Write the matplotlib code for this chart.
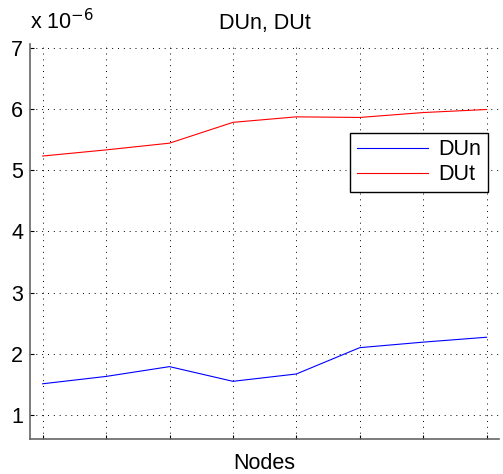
import matplotlib.pyplot as plt

plt.rcParams['font.family'] = ['Liberation Sans', 'DejaVu Sans']

# nodal displacements, in units of 1e-6
nodes = [1, 2, 3, 4, 5, 6, 7, 8]
dun = [1.51, 1.63, 1.79, 1.55, 1.67, 2.10, 2.19, 2.27]
dut = [5.23, 5.33, 5.44, 5.78, 5.87, 5.86, 5.94, 5.99]
yticks = [1, 2, 3, 4, 5, 6, 7]

fs = 15.5

fig = plt.figure(figsize=(5.03, 4.74), dpi=100)
ax = fig.add_axes([0.0596, 0.0745, 0.933, 0.8327])

ax.plot(nodes, dun, color='blue', linewidth=0.8, label='DUn')
ax.plot(nodes, dut, color='red', linewidth=0.8, label='DUt')

ax.set_xlim(0.8, 8.2)
ax.set_ylim(0.613, 7.06)
ax.set_xticks(nodes)
ax.set_xticklabels([''] * len(nodes))
ax.set_yticks(yticks)
ax.set_yticklabels([str(t) for t in yticks])

ax.grid(True, color='black', linestyle=(0, (1, 5)), linewidth=0.7)
ax.tick_params(direction='in', length=3, labelsize=fs, color='black')
ax.tick_params(axis='y', pad=5)

for side in ['top', 'right']:
    ax.spines[side].set_visible(False)
for side in ['left', 'bottom']:
    ax.spines[side].set_color('#666666')
    ax.spines[side].set_linewidth(1.2)

ax.set_title('DUn, DUt', fontsize=fs, pad=11)
ax.set_xlabel('Nodes', fontsize=fs, labelpad=7)
ax.text(0.0, 1.025, r'x 10$^{-6}$', transform=ax.transAxes,
        fontsize=fs, ha='left', va='bottom')

leg = ax.legend(loc='upper right', bbox_to_anchor=(0.9696, 0.72),
                bbox_transform=fig.transFigure, fontsize=fs,
                fancybox=False, framealpha=1, edgecolor='black',
                borderpad=0.3, handlelength=3.3, labelspacing=0.2,
                handletextpad=0.5, borderaxespad=0)
leg.get_frame().set_linewidth(1.0)

fig.savefig('out.png', dpi=100)
